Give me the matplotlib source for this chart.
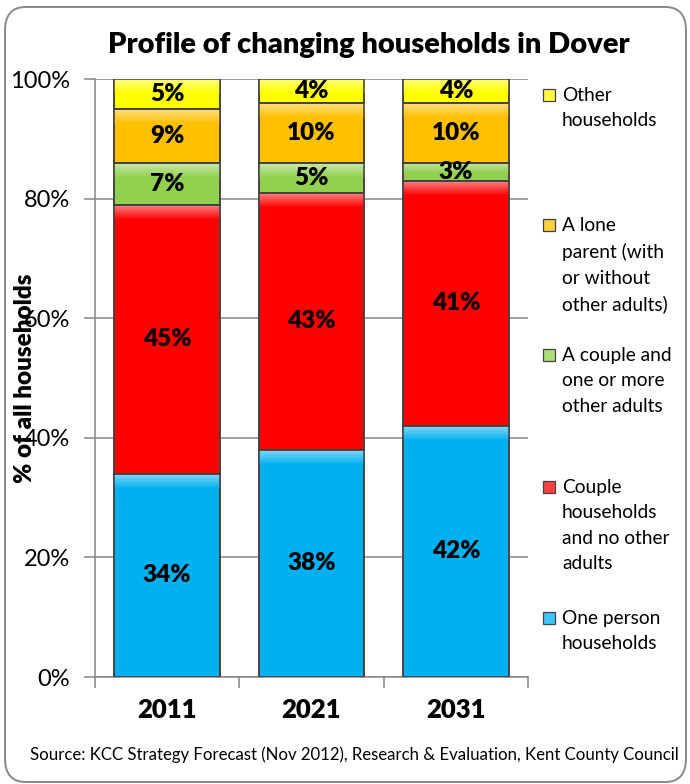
import numpy as np
import matplotlib
matplotlib.use('Agg')
import matplotlib.pyplot as plt
from matplotlib.patches import FancyBboxPatch, Rectangle
from matplotlib.colors import to_rgb

plt.rcParams['font.family'] = ['Lato', 'DejaVu Sans']

# data (percent of all households)
years = ['2011', '2021', '2031']
one_person = [34, 38, 42]
couple_only = [45, 43, 41]
couple_others = [7, 5, 3]
lone_parent = [9, 10, 10]
other = [5, 4, 4]

series_vals = [one_person, couple_only, couple_others, lone_parent, other]
series_names = ['One person\nhouseholds',
                'Couple\nhouseholds\nand no other\nadults',
                'A couple and\none or more\nother adults',
                'A lone\nparent (with\nor without\nother adults)',
                'Other\nhouseholds']
colors = ['#00b0f0', '#ff0000', '#92d050', '#ffc000', '#ffff00']

W, H = 690, 784
fig = plt.figure(figsize=(W / 100, H / 100), dpi=100)
ax = fig.add_axes([95 / W, 1 - 677 / H, 433 / W, 598 / H])

x = np.arange(len(years))
bottom = np.zeros(len(years))
bar_w = 0.73
edge = '#404040'
for vals, col in zip(series_vals, colors):
    bars = ax.bar(x, vals, bar_w, bottom=bottom, color=col, edgecolor=edge,
                  linewidth=1.1, zorder=2)
    base = np.array(to_rgb(col))
    light = base * 0.5 + 0.5
    t = np.linspace(0, 1, 32)[:, None]
    grad = light * (1 - t) + base * t
    for rect, v in zip(bars, vals):
        x0, y0 = rect.get_xy()
        w, h = rect.get_width(), rect.get_height()
        gh = min(h * 0.6, 2.5)
        img = ax.imshow(grad[:, None, :], extent=(x0, x0 + w, y0 + h - gh, y0 + h),
                        aspect='auto', zorder=2.2, interpolation='bilinear')
        img.set_clip_path(rect)
        ax.text(x0 + w / 2, y0 + h / 2, f'{v}%', ha='center', va='center',
                fontsize=17.5, fontweight='heavy', zorder=4)
    ax.bar(x, vals, bar_w, bottom=bottom, fill=False, edgecolor=edge,
           linewidth=1.1, zorder=3)
    bottom += np.array(vals)

# axes styling
grey = '#868686'
ax.set_xlim(-0.5, len(years) - 0.5)
ax.set_ylim(0, 100)
ax.set_yticks(np.arange(0, 101, 20))
ax.set_yticklabels([f'{v}%' for v in range(0, 101, 20)], fontsize=17)
ax.yaxis.grid(True, color=grey, linewidth=1.1, zorder=0)
ax.set_axisbelow(True)
ax.set_xticks(x)
ax.set_xticklabels(years, fontsize=18.5, fontweight='heavy')
ax.set_xticks(np.arange(-0.5, len(years)), minor=True)
ax.tick_params(axis='x', which='major', length=0, pad=15)
ax.tick_params(axis='x', which='minor', length=8, color=grey, width=1.1, direction='out')
ax.tick_params(axis='y', length=8, color=grey, width=1.1, pad=10)
for s in ['top', 'right']:
    ax.spines[s].set_visible(False)
for s in ['left', 'bottom']:
    ax.spines[s].set_color(grey)
    ax.spines[s].set_linewidth(1.1)

# titles
fig.text(369 / W, 1 - 45 / H, 'Profile of changing households in Dover',
         ha='center', va='center', fontsize=21, fontweight='heavy')
fig.text(25 / W, 1 - 378 / H, '% of all households', rotation=90,
         ha='center', va='center', fontsize=17.5, fontweight='heavy', zorder=5)
fig.text(354 / W, 1 - 755 / H,
         'Source: KCC Strategy Forecast (Nov 2012), Research & Evaluation, Kent County Council',
         ha='center', va='center', fontsize=12.1)

# legend (drawn by hand, Excel spaces entries evenly)
leg_y = [618, 487, 355, 225, 95]
for name, col, yy in zip(series_names, colors, leg_y):
    c = np.array(to_rgb(col)) * 0.75 + 0.25
    fig.patches.append(Rectangle((543 / W, 1 - (yy + 6) / H), 12 / W, 12 / H,
                                 transform=fig.transFigure, facecolor=c,
                                 edgecolor=edge, linewidth=0.9))
    fig.text(562 / W, 1 - (yy - 8) / H, name, ha='left', va='top',
             fontsize=13.8, linespacing=1.6)

# rounded border
fig.patches.append(FancyBboxPatch((5 / W, 1 - 782 / H), 681 / W, 775 / H,
                                  boxstyle='round,pad=0,rounding_size=0.03',
                                  transform=fig.transFigure, facecolor='none',
                                  edgecolor='#888888', linewidth=1.4))

fig.savefig('out.png', dpi=100)
